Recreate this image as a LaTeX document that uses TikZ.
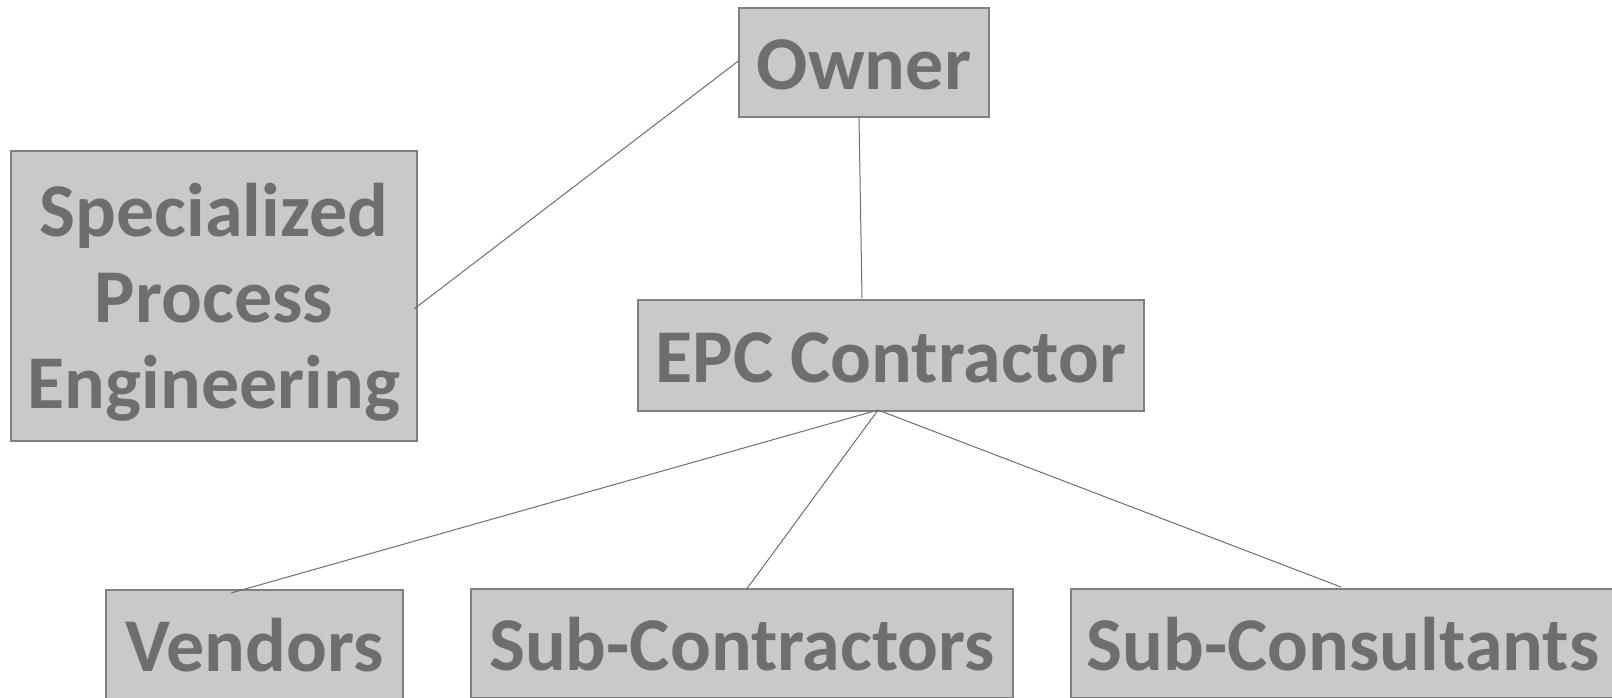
\documentclass[tikz,border=0pt]{standalone}
\usepackage{fontspec}
\setmainfont{Carlito}
\usetikzlibrary{positioning}
\definecolor{cBox} {HTML}{C9C9C9}
\definecolor{cEdge}{HTML}{808080}
\definecolor{cText}{HTML}{6C6E70}
\definecolor{cLink}{HTML}{6E6E6E}
\tikzset{
  org/.style ={draw=cEdge,fill=cBox,text=cText,align=center,inner sep=0pt,
               font=\fontsize{38}{43}\selectfont\bfseries,line width=0.6pt},
  row/.style ={org,minimum height=54.5pt,text height=27pt,text depth=0pt},
  link/.style={draw=cLink,line width=0.5pt},
}
\begin{document}
\begin{tikzpicture}[x=0.5pt,y=0.5pt,every node/.style={outer sep=0pt}]
\useasboundingbox (0,0) rectangle (1612,-697);

% ---- top ------------------------------------------------------------------
\node[row,minimum width=125pt] (owner) at (864,-62.5) {Owner};
\node[org,minimum width=203pt,minimum height=145pt,text depth=0pt] (spe)
  at (214,-296) {Specialized\\Process\\Engineering};

% ---- middle ---------------------------------------------------------------
\node[row,minimum width=253pt,minimum height=55.5pt] (epc) at (891,-355.5)
  {EPC Contractor};

% ---- bottom row (runs off the lower edge) ---------------------------------
\node[row,minimum width=148.5pt] (vendors) at (254.5,-644.5) {Vendors};
\node[row,minimum width=271pt]   (subcon)  at (742,-643.5)   {Sub-Contractors};
\node[row,minimum width=272pt]   (subcons) at (1343,-643.5)  {Sub-Consultants};

% ---- links ----------------------------------------------------------------
\draw[link] ([yshift=1pt]owner.west) -- ([xshift=-1.5pt,yshift=-6.5pt]spe.east);
\draw[link] ([xshift=-2.5pt]owner.south) -- ([xshift=-14.5pt,yshift=1pt]epc.north);
\coordinate (hub) at ([xshift=-6.5pt,yshift=0.5pt]epc.south);
\foreach \n/\dx/\dy in {vendors/-11.75pt/-1.5pt,subcon/2pt/-0.5pt,subcons/-1pt/1pt}
  {\draw[link] (hub) -- ([xshift=\dx,yshift=\dy]\n.north);}
\end{tikzpicture}
\end{document}
